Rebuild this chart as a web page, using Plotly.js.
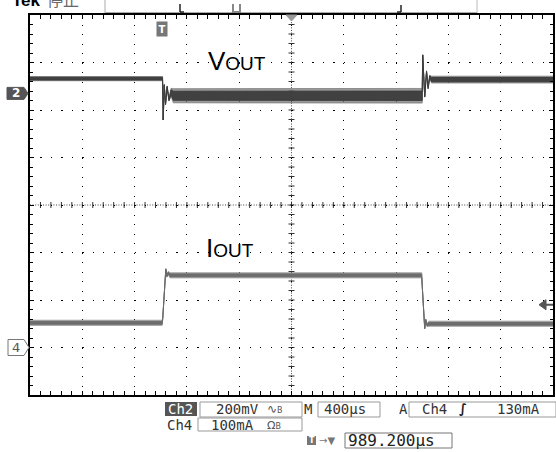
<!DOCTYPE html>
<html>
<head>
<meta charset="utf-8">
<script src="https://cdn.plot.ly/plotly-3.0.1.min.js"></script>
<style>html,body{margin:0;padding:0;background:#fff;}#chart{width:556px;height:452px;}</style>
</head>
<body>
<div id="chart"></div>
<script>
// ---- data (time in µs relative to trigger) ----
const vT    = [-1010.8, 3, 8, 16, 26, 38, 52, 68, 85, 1989, 1992.6, 2008, 2022, 2034, 2046, 2060, 2989.2];
const vMid  = [62, 62, -112, 35, -45, 28, -28, 5, -10, -10, 162, -14, 92, 23, 70, 58, 58];      // mV
const vHalf = [8, 8, 0, 3, 3, 3, 4, 15, 27, 28, 0, 2, 3, 4, 6, 13, 13];                         // mV noise half-band
const iT    = [-1010.8, 0, 4, 24, 28, 36, 46, 60, 1985, 1989, 2008, 2016, 2026, 2040, 2989.2];
const iMid  = [52, 52, 60, 158, 165, 150, 157, 152, 152, 130, 40, 58, 47, 50, 50];              // mA
const iHalf = [5, 5, 1, 1, 1, 2, 3, 5, 5, 1, 1, 2, 3, 5, 5];                                     // mA noise half-band

const timePerDiv = 400;        // µs
const triggerToCenter = 989.2; // µs
const ch2Scale = 200, ch2OffsetDiv = 2.35;   // mV/div
const ch4Scale = 100, ch4OffsetDiv = -3;     // mA/div
const trigArrowLevel = 90;     // mA (screen position of trigger arrow)

const labels = {
  ch2: "Ch2", ch2v: "200mV", m: "M", tb: "400µs", a: "A", trgCh: "Ch4", trgLvl: "130mA",
  ch4: "Ch4", ch4v: "100mA", pos: "989.200µs"
};

// ---- geometry helpers (pixel -> paper) ----
const L = 30, R = 553, T = 15, B = 395;
const px = x => (x - L) / (R - L);
const py = y => (B - y) / (B - T);

const xRange = [triggerToCenter - 5 * timePerDiv, triggerToCenter + 5 * timePerDiv];
const up = (m, h, f) => m.map((v, k) => v + h[k] * f);
const dn = (m, h, f) => m.map((v, k) => v - h[k] * f);

function band(t, mid, half, ax, edge, core, fOuter, fInner) {
  return [
    {x: t, y: up(mid, half, fOuter), yaxis: ax, mode: 'lines', line: {color: edge, width: 1}, hoverinfo: 'skip'},
    {x: t, y: dn(mid, half, fOuter), yaxis: ax, mode: 'lines', line: {color: edge, width: 1}, fill: 'tonexty', fillcolor: edge, hoverinfo: 'skip'},
    {x: t, y: up(mid, half, fInner), yaxis: ax, mode: 'lines', line: {color: core, width: 1}, hoverinfo: 'skip'},
    {x: t, y: dn(mid, half, fInner), yaxis: ax, mode: 'lines', line: {color: core, width: 1}, fill: 'tonexty', fillcolor: core, hoverinfo: 'skip'}
  ];
}

const traces = [
  {x: [triggerToCenter], y: [0], xaxis: 'x', yaxis: 'y', mode: 'markers', marker: {opacity: 0}, hoverinfo: 'skip'}
].concat(
  band(vT, vMid, vHalf, 'y2', 'rgba(120,120,120,0.75)', 'rgba(60,60,60,0.95)', 1.1, 0.7),
  band(iT, iMid, iHalf, 'y3', 'rgba(150,150,150,0.75)', 'rgba(105,105,105,0.95)', 1.1, 0.6)
);

const layout = {
  width: 556, height: 452,
  margin: {l: L, r: 556 - R, t: T, b: 452 - B, pad: 0},
  paper_bgcolor: '#fff', plot_bgcolor: '#fff',
  showlegend: false,
  xaxis: {
    range: xRange, showticklabels: false, zeroline: false, fixedrange: true,
    tick0: triggerToCenter, dtick: timePerDiv, ticks: 'inside', ticklen: 4, tickcolor: '#000', tickwidth: 1,
    showline: true, linecolor: '#000', linewidth: 2, mirror: 'allticks',
    showgrid: true, gridcolor: '#000', gridwidth: 1, griddash: '1.2px,8.3px',
    minor: {tick0: triggerToCenter, dtick: timePerDiv / 5, ticks: 'inside', ticklen: 3, tickcolor: '#000', showgrid: false}
  },
  yaxis: {
    range: [-4, 4], showticklabels: false, zeroline: false, fixedrange: true,
    tick0: 0, dtick: 1, ticks: 'inside', ticklen: 4, tickcolor: '#000', tickwidth: 1,
    showline: true, linecolor: '#000', linewidth: 2, mirror: 'allticks',
    showgrid: true, gridcolor: '#000', gridwidth: 1, griddash: '1.2px,9.26px',
    minor: {tick0: 0, dtick: 0.2, ticks: 'inside', ticklen: 3, tickcolor: '#000', showgrid: false}
  },
  yaxis2: {overlaying: 'y', visible: false, fixedrange: true,
    range: [(-4 - ch2OffsetDiv) * ch2Scale, (4 - ch2OffsetDiv) * ch2Scale]},
  yaxis3: {overlaying: 'y', visible: false, fixedrange: true,
    range: [(-4 - ch4OffsetDiv) * ch4Scale, (4 - ch4OffsetDiv) * ch4Scale]},
  shapes: [],
  annotations: []
};

const S = layout.shapes, A = layout.annotations;

// ---- centre cross-hair graticule (ticks every minor division) ----
S.push({type: 'line', xref: 'paper', yref: 'y', x0: 0, x1: 1, y0: 0, y1: 0, line: {color: '#444', width: 1, dash: '1px,1.6px'}, layer: 'below'});
S.push({type: 'line', xref: 'x', yref: 'paper', x0: triggerToCenter, x1: triggerToCenter, y0: 0, y1: 1, line: {color: '#444', width: 1, dash: '1px,1.6px'}, layer: 'below'});
for (let k = 1; k < 50; k++) {
  const t = xRange[0] + k * timePerDiv / 5;
  S.push({type: 'line', xref: 'x', x0: t, x1: t, yref: 'y', ysizemode: 'pixel', yanchor: 0, y0: -3, y1: 3,
    line: {color: '#333', width: 1}, layer: 'below'});
}
for (let k = 1; k < 40; k++) {
  const d = -4 + k * 0.2;
  S.push({type: 'line', yref: 'y', y0: d, y1: d, xref: 'x', xsizemode: 'pixel', xanchor: triggerToCenter, x0: -3, x1: 3,
    line: {color: '#333', width: 1}, layer: 'below'});
}

const rect = (x0, y0, x1, y1, fill, line) => S.push({type: 'rect', xref: 'paper', yref: 'paper', x0: px(x0), x1: px(x1), y0: py(y0), y1: py(y1),
  fillcolor: fill || 'rgba(0,0,0,0)', line: {color: line || 'rgba(0,0,0,0)', width: line ? 1 : 0}, layer: 'above'});
const seg = (x0, y0, x1, y1, c, w) => S.push({type: 'line', xref: 'paper', yref: 'paper', x0: px(x0), x1: px(x1), y0: py(y0), y1: py(y1),
  line: {color: c, width: w || 1}, layer: 'above'});
const txt = (x, y, s, opt) => A.push(Object.assign({xref: 'paper', yref: 'paper', x: px(x), y: py(y), text: s, showarrow: false, borderpad: 0,
  xanchor: 'left', yanchor: 'middle', font: {family: 'DejaVu Sans Mono', size: 14, color: '#333'}}, opt || {}));

// ---- trace labels ----
A.push({xref: 'paper', yref: 'paper', x: px(206), y: py(78), xanchor: 'left', yanchor: 'bottom', showarrow: false,
  text: 'V<span style="font-size:19px">OUT</span>', font: {family: 'Liberation Sans, Arial', size: 26, color: '#000'}});
A.push({xref: 'paper', yref: 'paper', x: px(204), y: py(265), xanchor: 'left', yanchor: 'bottom', showarrow: false,
  text: 'I<span style="font-size:19px">OUT</span>', font: {family: 'Liberation Sans, Arial', size: 26, color: '#000'}});

// ---- channel ground markers ----
S.push({type: 'path', xref: 'paper', xsizemode: 'pixel', xanchor: 0, yref: 'y2', ysizemode: 'pixel', yanchor: 0,
  path: 'M-23,-6 L-6,-6 L-2,0 L-6,6 L-23,6 Z', fillcolor: '#555', line: {color: '#555', width: 1}, layer: 'above'});
A.push({xref: 'paper', yref: 'y2', x: 0, y: 0, xshift: -14, xanchor: 'center', yanchor: 'middle', showarrow: false,
  text: '<b>2</b>', font: {family: 'DejaVu Sans', size: 12, color: '#fff'}});
S.push({type: 'path', xref: 'paper', xsizemode: 'pixel', xanchor: 0, yref: 'y3', ysizemode: 'pixel', yanchor: 0,
  path: 'M-22,-8 L-6,-8 L-1,0 L-6,8 L-22,8 Z', fillcolor: '#fff', line: {color: '#777', width: 1}, layer: 'above'});
A.push({xref: 'paper', yref: 'y3', x: 0, y: 0, xshift: -14, xanchor: 'center', yanchor: 'middle', showarrow: false,
  text: '4', font: {family: 'DejaVu Sans', size: 13, color: '#555'}});

// trigger level arrow (right)
S.push({type: 'path', xref: 'paper', xsizemode: 'pixel', xanchor: 1, yref: 'y3', ysizemode: 'pixel', yanchor: trigArrowLevel,
  path: 'M-14,0 L-7,5 L-7,-5 Z', fillcolor: '#555', line: {color: '#555', width: 1}, layer: 'above'});
S.push({type: 'path', xref: 'paper', xsizemode: 'pixel', xanchor: 1, yref: 'y3', ysizemode: 'pixel', yanchor: trigArrowLevel,
  path: 'M-7,0 L0,0', line: {color: '#555', width: 2}, layer: 'above'});

// trigger T marker (at trigger time)
A.push({xref: 'x', yref: 'paper', x: 0, y: py(28.5), xanchor: 'center', yanchor: 'middle', showarrow: false,
  text: '<b>T</b>', font: {family: 'DejaVu Sans', size: 10, color: '#fff'}, bgcolor: '#777', borderpad: 1.5});
// centre position triangle
S.push({type: 'path', xref: 'paper', yref: 'paper', path:
  `M${px(286)},${py(15)} L${px(297)},${py(15)} L${px(291.5)},${py(21)} Z`, fillcolor: '#999', line: {color: '#999', width: 1}, layer: 'above'});

// ---- top status bar ----
A.push({xref: 'paper', yref: 'paper', x: px(10), y: py(12), xanchor: 'left', yanchor: 'bottom', showarrow: false,
  text: '<b>Tek</b>', font: {family: 'Liberation Sans', size: 17, color: '#000'}});
A.push({xref: 'paper', yref: 'paper', x: px(45), y: py(13), xanchor: 'left', yanchor: 'bottom', showarrow: false,
  text: '停止', font: {family: 'Noto Sans CJK SC', size: 16, color: '#666'}});
seg(105, 0, 105, 13, '#aaa', 1);
seg(105, 12.5, 477, 12.5, '#aaa', 1);
seg(477, 0, 477, 13, '#bbb', 1);
seg(180, 4, 180, 12, '#222', 1.5); seg(180, 12, 184, 12, '#222', 1.5);
S.push({type: 'path', xref: 'paper', yref: 'paper', path:
  `M${px(233)},${py(4)} L${px(233)},${py(12)} L${px(240)},${py(12)} L${px(240)},${py(4)}`, line: {color: '#888', width: 2}, layer: 'above'});
seg(401, 5, 401, 12, '#222', 1.5); seg(397, 12, 401, 12, '#222', 1.5);

// ---- bottom readout ----
rect(165, 402, 197, 416, '#555');
txt(167, 409, labels.ch2, {font: {family: 'DejaVu Sans Mono', size: 14, color: '#fff'}});
rect(200, 402, 302, 417, null, '#999');
txt(215, 409, labels.ch2v);
txt(266, 409, '∿<span style="font-size:8px">B</span>', {font: {family: 'DejaVu Sans', size: 12, color: '#555'}});
txt(303, 409, labels.m);
rect(318, 402, 380, 417, null, '#999');
txt(323, 409, labels.tb);
txt(398, 409, labels.a);
rect(409, 402, 556, 417, null, '#999');
txt(421, 409, labels.trgCh);
txt(458, 409, '<b>∫</b>', {font: {family: 'DejaVu Sans', size: 13, color: '#222'}});
txt(496, 409, labels.trgLvl);
txt(166, 425, labels.ch4);
rect(198, 418, 302, 431, null, '#999');
txt(210, 425, labels.ch4v);
txt(266, 425, 'Ω<span style="font-size:8px">B</span>', {font: {family: 'DejaVu Sans', size: 11, color: '#555'}});
rect(307, 436, 316, 445, '#777');
A.push({xref: 'paper', yref: 'paper', x: px(311.5), y: py(440.5), xanchor: 'center', yanchor: 'middle', showarrow: false, borderpad: 0,
  text: '<b>T</b>', font: {family: 'DejaVu Sans', size: 8, color: '#fff'}});
txt(318, 440.5, '→▼', {font: {family: 'DejaVu Sans', size: 10, color: '#777'}});
rect(345, 433, 452, 448, null, '#777');
txt(347, 440.5, labels.pos, {font: {family: 'DejaVu Sans Mono', size: 16, color: '#222'}});

Plotly.newPlot('chart', traces, layout, {staticPlot: true, displayModeBar: false});
</script>
</body>
</html>
